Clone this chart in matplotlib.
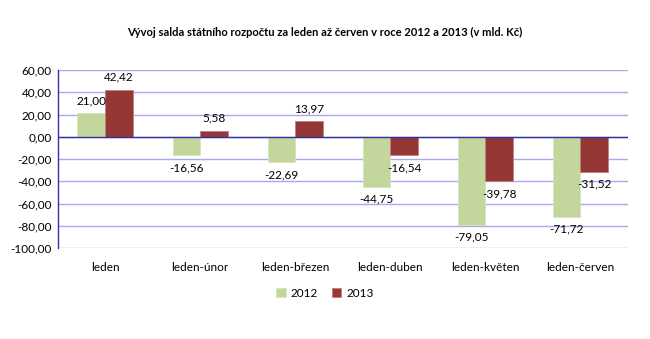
import matplotlib.pyplot as plt
import numpy as np

plt.rcParams['font.family'] = ['Lato', 'DejaVu Sans']

categories = ['leden', 'leden-únor', 'leden-březen', 'leden-duben', 'leden-květen', 'leden-červen']
values_2012 = [21.00, -16.56, -22.69, -44.75, -79.05, -71.72]
values_2013 = [42.42, 5.58, 13.97, -16.54, -39.78, -31.52]
yticks = [60, 40, 20, 0, -20, -40, -60, -80, -100]


def fmt(v):
    return f'{v:.2f}'.replace('.', ',')


fig = plt.figure(figsize=(6.5, 3.39), dpi=100)
ax = fig.add_axes([0.0885, 0.2684, 0.8775, 0.5251])

x = np.arange(len(categories))
w = 0.29
bars1 = ax.bar(x - w / 2, values_2012, w, color='#C3D69B', edgecolor='#D7E4BD', linewidth=0.6, label='2012', zorder=3)
bars2 = ax.bar(x + w / 2, values_2013, w, color='#953735', edgecolor='#C0807F', linewidth=0.6, label='2013', zorder=3)

# popisky hodnot nad / pod sloupci
for bars, vals in ((bars1, values_2012), (bars2, values_2013)):
    for b, v in zip(bars, vals):
        cx = b.get_x() + b.get_width() / 2
        if v >= 0:
            ax.annotate(fmt(v), (cx, v), xytext=(0, 5), textcoords='offset points',
                        ha='center', va='bottom', fontsize=8.5)
        else:
            ax.annotate(fmt(v), (cx, v), xytext=(0, -5), textcoords='offset points',
                        ha='center', va='top', fontsize=8.5)

ax.set_xlim(-0.5, len(categories) - 0.5)
ax.set_ylim(-100, 60)
ax.set_yticks(yticks)
ax.set_yticklabels([fmt(t) for t in yticks], fontsize=8.5)
ax.set_xticks(x)
ax.set_xticklabels(categories, fontsize=8.5)
ax.tick_params(axis='x', length=0, pad=10)
ax.tick_params(axis='y', length=0, pad=4)

ax.grid(axis='y', color='#A8A8F2', linewidth=1, zorder=0)
ax.axhline(0, color='#333399', linewidth=1, zorder=4)
for s in ('top', 'right', 'bottom'):
    ax.spines[s].set_visible(False)
ax.spines['left'].set_color('#333399')
ax.spines['left'].set_linewidth(1)

fig.text(0.5, 0.905, 'Vývoj salda státního rozpočtu za leden až červen v roce 2012 a 2013 (v mld. Kč)',
         ha='center', va='center', fontsize=8, fontweight='bold')

fig.legend(handles=[bars1, bars2], loc='center', bbox_to_anchor=(0.5, 0.135), ncol=2, frameon=False,
           fontsize=8.5, handlelength=0.8, handleheight=0.8, handletextpad=0.4, columnspacing=1.2)

fig.savefig('out.png', dpi=100)
